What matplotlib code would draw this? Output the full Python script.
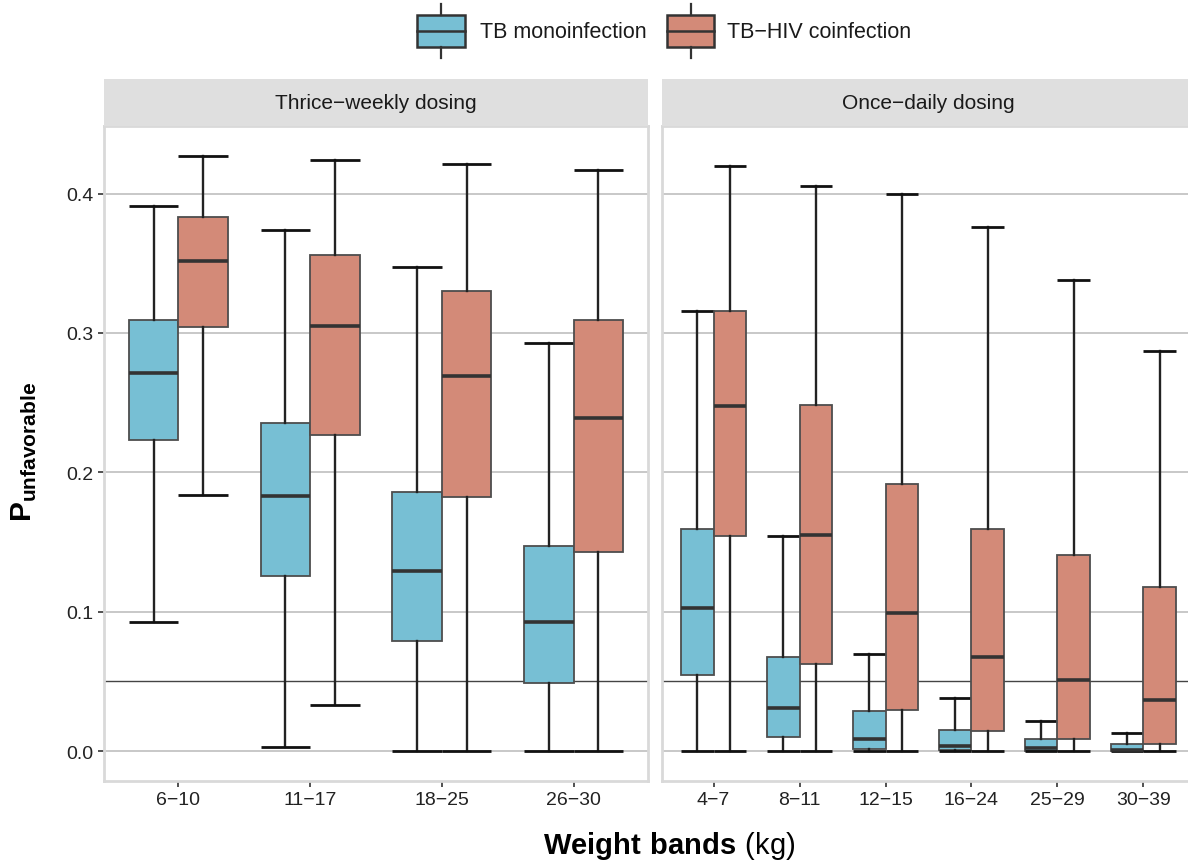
import matplotlib
matplotlib.use('Agg')
import matplotlib.pyplot as plt
from matplotlib.patches import Rectangle
from matplotlib.lines import Line2D
import numpy as np

plt.rcParams['font.family'] = ['Liberation Sans', 'DejaVu Sans']
plt.rcParams['mathtext.fontset'] = 'custom'
plt.rcParams['mathtext.rm'] = 'Liberation Sans'
plt.rcParams['mathtext.bf'] = 'Liberation Sans:bold'

# ---------------- data ----------------
groups = ['TB monoinfection', 'TB\u2212HIV coinfection']
group_colors = ['#77BFD4', '#D38A78']
facet_titles = ['Thrice\u2212weekly dosing', 'Once\u2212daily dosing']
bands_tw = ['6\u221210', '11\u221217', '18\u221225', '26\u221230']
bands_od = ['4\u22127', '8\u221211', '12\u221215', '16\u221224', '25\u221229', '30\u221239']
yticks = [0.0, 0.1, 0.2, 0.3, 0.4]
threshold = 0.05

# Thrice-weekly, TB monoinfection
tw_mono_low = [0.093, 0.003, 0.0, 0.0]
tw_mono_q1 = [0.223, 0.126, 0.079, 0.049]
tw_mono_med = [0.271, 0.183, 0.129, 0.093]
tw_mono_q3 = [0.309, 0.2355, 0.186, 0.147]
tw_mono_up = [0.391, 0.374, 0.347, 0.293]
# Thrice-weekly, TB-HIV coinfection
tw_co_low = [0.184, 0.033, 0.0, 0.0]
tw_co_q1 = [0.304, 0.227, 0.182, 0.143]
tw_co_med = [0.352, 0.305, 0.269, 0.239]
tw_co_q3 = [0.383, 0.356, 0.330, 0.309]
tw_co_up = [0.427, 0.424, 0.421, 0.417]
# Once-daily, TB monoinfection
od_mono_low = [0.0, 0.0, 0.0, 0.0, 0.0, 0.0]
od_mono_q1 = [0.055, 0.010, 0.0019, 0.0005, 0.0002, 0.0001]
od_mono_med = [0.103, 0.031, 0.009, 0.0036, 0.0021, 0.0008]
od_mono_q3 = [0.1595, 0.0676, 0.0288, 0.0155, 0.0086, 0.005]
od_mono_up = [0.316, 0.1545, 0.0698, 0.0383, 0.0219, 0.0131]
# Once-daily, TB-HIV coinfection
od_co_low = [0.0, 0.0, 0.0, 0.0, 0.0, 0.0]
od_co_q1 = [0.1545, 0.0626, 0.0293, 0.0143, 0.0088, 0.0048]
od_co_med = [0.2476, 0.1548, 0.0993, 0.0674, 0.051, 0.0369]
od_co_q3 = [0.316, 0.2486, 0.1919, 0.1593, 0.1405, 0.1176]
od_co_up = [0.4195, 0.4057, 0.400, 0.3757, 0.3379, 0.2874]

# ---------------- layout ----------------
W, H = 1188, 862
fig = plt.figure(figsize=(W / 100, H / 100), dpi=100)
fig.patch.set_facecolor('white')


def fx(px):
    return px / W


def fy(py):
    return 1 - py / H


panel_top, panel_bot = 127, 782
strip_top = 80
panels = [(104, 648), (662, 1195)]

ax_l = fig.add_axes([fx(104), fy(panel_bot), (648 - 104) / W, (panel_bot - panel_top) / H])
ax_r = fig.add_axes([fx(662), fy(panel_bot), (1195 - 662) / W, (panel_bot - panel_top) / H])

box_w = 0.375


def stats_list(low, q1, med, q3, up):
    return [dict(whislo=a, q1=b, med=c, q3=d, whishi=e, fliers=[])
            for a, b, c, d, e in zip(low, q1, med, q3, up)]


def draw_panel(ax, cats, series, expand):
    x = np.arange(len(cats))
    for gi, (color, st) in enumerate(zip(group_colors, series)):
        pos = x + (gi - 0.5) * box_w
        ax.bxp(stats_list(*st), positions=pos, widths=box_w, capwidths=box_w,
               patch_artist=True, showfliers=False, manage_ticks=False,
               boxprops=dict(facecolor=color, edgecolor='#4D4D4D', linewidth=1.3),
               medianprops=dict(color='#333333', linewidth=2.6, solid_capstyle='butt'),
               whiskerprops=dict(color='#222222', linewidth=1.7),
               capprops=dict(color='#111111', linewidth=2.0, solid_capstyle='butt'))
    ax.set_xlim(-expand, len(cats) - 1 + expand)
    ax.set_ylim(-0.0214, 0.4485)
    ax.set_xticks(x)
    ax.set_xticklabels(cats, fontsize=14, color='#222222')
    ax.set_yticks(yticks)
    ax.yaxis.grid(True, color='#C4C4C4', linewidth=1.3)
    ax.xaxis.grid(False)
    ax.set_axisbelow(True)
    ax.axhline(threshold, color='#444444', linewidth=1.0, zorder=0.8)
    for s in ax.spines.values():
        s.set_color('#D9D9D9')
        s.set_linewidth(2.0)
    ax.tick_params(axis='x', length=4.5, width=1.2, color='#333333', pad=3)
    ax.tick_params(axis='y', length=4.5, width=1.2, color='#333333', pad=3,
                   labelsize=14, labelcolor='#222222')


draw_panel(ax_l, bands_tw,
           [(tw_mono_low, tw_mono_q1, tw_mono_med, tw_mono_q3, tw_mono_up),
            (tw_co_low, tw_co_q1, tw_co_med, tw_co_q3, tw_co_up)], 0.565)
draw_panel(ax_r, bands_od,
           [(od_mono_low, od_mono_q1, od_mono_med, od_mono_q3, od_mono_up),
            (od_co_low, od_co_q1, od_co_med, od_co_q3, od_co_up)], 0.6)
ax_l.set_yticklabels(['%.1f' % v for v in yticks])
ax_r.tick_params(axis='y', left=False, labelleft=False)

# strips
for (x0, x1), title in zip(panels, facet_titles):
    fig.patches.append(Rectangle((fx(x0), fy(panel_top)), (x1 - x0) / W,
                                 (panel_top - strip_top) / H, transform=fig.transFigure,
                                 facecolor='#DFDFDF', edgecolor='none', zorder=0))
    fig.text(fx((x0 + x1) / 2), fy((strip_top + panel_top) / 2), title,
             ha='center', va='center', fontsize=15, color='#1A1A1A')

# axis labels
fig.text(fx(669), fy(846), r'$\mathbf{Weight\ bands}\ \mathrm{(kg)}$',
         ha='center', va='center', fontsize=21, color='black')
fig.text(fx(24), fy(452), r'$\mathbf{P}_{\mathbf{unfavorable}}$',
         ha='center', va='center', rotation=90, fontsize=21.5, color='black')

# legend
key_specs = [(417, 465, 480), (667, 714, 727)]
for (k0, k1, tx), color, label in zip(key_specs, group_colors, groups):
    fig.patches.append(Rectangle((fx(k0), fy(48)), (k1 - k0) / W, 32 / H,
                                 transform=fig.transFigure, facecolor=color,
                                 edgecolor='#333333', linewidth=1.8, zorder=2))
    xc = (k0 + k1) / 2
    fig.lines.append(Line2D([fx(k0), fx(k1)], [fy(32), fy(32)], transform=fig.transFigure,
                            color='#333333', linewidth=1.8, zorder=3))
    fig.lines.append(Line2D([fx(xc), fx(xc)], [fy(5), fy(16)], transform=fig.transFigure,
                            color='#333333', linewidth=1.6, zorder=3))
    fig.lines.append(Line2D([fx(xc), fx(xc)], [fy(48), fy(59)], transform=fig.transFigure,
                            color='#333333', linewidth=1.6, zorder=3))
    fig.text(fx(tx), fy(32), label, ha='left', va='center', fontsize=15.5, color='#1A1A1A')

fig.savefig('out.png', dpi=100, facecolor='white')
